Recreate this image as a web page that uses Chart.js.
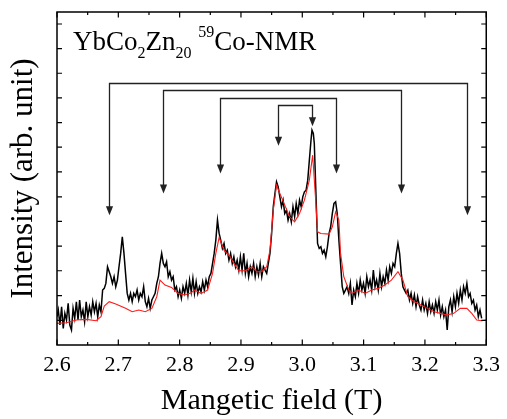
<!DOCTYPE html>
<html>
<head>
<meta charset="utf-8">
<script src="https://cdn.jsdelivr.net/npm/chart.js@4.4.1/dist/chart.umd.min.js"></script>
<style>
html,body{margin:0;padding:0;background:#fff;}
#c{display:block;}
</style>
</head>
<body>
<canvas id="c" width="507" height="419"></canvas>
<script>
// ---- data (magnetic field in T, intensity in arbitrary units) ----
const blackField = [
2.6000,2.6021,2.6048,2.6075,2.6102,2.6128,
2.6155,2.6182,2.6209,2.6236,2.6262,2.6289,2.6316,2.6343,2.6369,2.6396,2.6423,2.6450,2.6476,2.6503,2.6530,2.6557,2.6583,2.6610,2.6637,2.6664,
2.6690,2.6717,2.6744,2.6771,2.6797,2.6824,2.6851,2.6878,2.6904,2.6931,2.6958,2.6985,2.7011,2.7038,2.7065,2.7092,2.7118,2.7145,2.7172,2.7199,
2.7226,2.7252,2.7279,2.7306,2.7333,2.7359,2.7386,2.7413,2.7440,2.7466,2.7493,2.7520,2.7547,2.7573,2.7600,2.7627,2.7654,2.7680,2.7707,2.7734,
2.7761,2.7787,2.7814,2.7841,2.7868,2.7894,2.7921,2.7948,2.7975,2.8001,2.8028,2.8055,2.8082,2.8109,2.8135,2.8162,2.8189,2.8216,2.8242,2.8269,
2.8296,2.8323,2.8349,2.8376,2.8403,2.8430,2.8456,2.8483,2.8510,2.8537,2.8563,2.8590,2.8617,2.8644,2.8670,2.8697,2.8724,2.8751,2.8777,2.8804,
2.8831,2.8858,2.8884,2.8911,2.8938,2.8965,2.8991,2.9018,2.9045,2.9072,2.9099,2.9125,2.9152,2.9179,2.9206,2.9232,2.9259,2.9286,2.9313,2.9339,
2.9366,2.9393,2.9420,2.9446,2.9473,2.9500,2.9527,2.9554,2.9580,2.9607,2.9634,2.9661,2.9687,2.9714,2.9741,2.9768,2.9794,2.9821,2.9848,2.9875,
2.9901,2.9928,2.9955,2.9982,3.0008,3.0035,3.0062,3.0089,3.0115,3.0142,3.0158,3.0180,3.0196,3.0212,3.0233,3.0249,3.0276,3.0303,3.0329,3.0356,3.0383,3.0410,
3.0437,3.0463,3.0490,3.0517,3.0544,3.0570,3.0597,3.0624,3.0651,3.0677,3.0704,3.0731,3.0758,3.0784,3.0811,3.0838,3.0865,3.0891,3.0918,3.0945,
3.0972,3.0998,3.1025,3.1052,3.1079,3.1105,3.1132,3.1159,3.1186,3.1212,3.1239,3.1266,3.1293,3.1319,3.1346,3.1373,3.1400,3.1426,3.1453,3.1480,
3.1507,3.1534,3.1560,3.1587,3.1614,3.1641,3.1667,3.1694,3.1721,3.1748,3.1774,3.1801,3.1828,3.1855,3.1881,3.1908,3.1935,3.1962,3.1988,3.2015,
3.2042,3.2069,3.2095,3.2122,3.2149,3.2176,3.2202,3.2229,3.2256,3.2283,3.2309,3.2336,3.2363,3.2390,3.2416,3.2443,3.2470,3.2497,3.2523,3.2550,
3.2577,3.2604,3.2630,3.2657,3.2684,3.2711,3.2737,3.2764,3.2791,3.2818,3.2844,3.2871,3.2898,3.2925
];
const blackIntensity = [
85,105,60,115,50,95,
75,125,60,45,110,80,130,75,135,85,105,70,130,85,115,90,130,100,125,85,
120,100,165,170,185,235,220,205,185,205,175,195,235,275,325,275,215,155,135,155,
130,155,145,165,135,155,145,175,130,115,140,110,135,145,155,185,205,245,275,245,
235,250,205,220,195,205,165,175,145,165,140,175,155,185,150,195,160,200,155,190,
155,175,160,190,165,195,175,205,215,245,275,315,375,335,315,290,305,275,285,255,
275,245,265,235,255,225,265,225,275,215,245,205,235,215,245,205,235,210,245,205,
235,225,215,245,275,335,415,455,490,475,445,415,435,395,405,375,395,370,415,385,
425,395,435,415,445,460,465,495,555,615,645,635,605,515,395,305,290,295,275,285,265,295,
335,355,395,425,430,395,315,245,175,155,165,175,155,185,120,165,145,185,155,195,
165,185,155,205,175,195,165,225,175,195,165,215,175,205,185,225,195,235,215,245,
235,275,305,275,215,175,165,155,165,135,155,125,150,115,145,120,105,135,105,125,
95,130,100,120,95,130,105,135,90,115,85,105,45,115,135,100,145,115,155,125,
165,135,175,155,185,145,155,125,135,105,120,85,105,80
];
const redField = [2.6000,2.6155,2.6316,2.6476,2.6637,2.6717,2.6771,2.6851,2.6958,2.7118,2.7226,2.7333,2.7440,2.7547,2.7627,2.7680,2.7761,2.7868,2.7975,2.8082,2.8189,2.8242,2.8349,2.8456,2.8537,2.8590,2.8644,2.8724,2.8831,2.8884,2.8965,2.9072,2.9179,2.9259,2.9339,2.9420,2.9473,2.9527,2.9580,2.9634,2.9714,2.9794,2.9875,2.9955,3.0035,3.0115,3.0169,3.0222,3.0249,3.0303,3.0437,3.0490,3.0544,3.0597,3.0624,3.0677,3.0758,3.0811,3.0918,3.1025,3.1132,3.1239,3.1346,3.1453,3.1560,3.1641,3.1721,3.1828,3.1935,3.2042,3.2149,3.2256,3.2363,3.2470,3.2577,3.2684,3.2764,3.2845,3.2925,3.3000];
const redIntensity = [65,67,75,77,73,85,117,130,123,110,100,105,100,110,145,195,180,173,155,150,157,165,155,165,215,275,323,285,263,245,223,223,235,220,220,235,285,405,480,455,420,385,370,395,435,495,570,425,340,335,333,355,400,375,275,205,165,155,165,155,165,170,180,195,220,195,145,130,120,110,100,95,90,95,110,110,95,75,73,75];

// satellite-line assignment brackets (field in T, intensity units)
const bracketLeft  = [2.6846, 2.7723, 2.8660, 2.9596];
const bracketRight = [3.2689, 3.1608, 3.0554, 3.0158];
const bracketTop   = [787, 767, 743, 722];
const tipLeft      = [390, 455, 515, 598];
const tipRight     = [390, 455, 515, 657];

// axis ticks
const xTickValues = [2.6, 2.7, 2.8, 2.9, 3.0, 3.1, 3.2, 3.3];
const xTickLabels = ['2.6','2.7','2.8','2.9','3.0','3.1','3.2','3.3'];
const xMinorTicks = [2.65, 2.75, 2.85, 2.95, 3.05, 3.15, 3.25];
const yTickValues = [74,148,223,297,371,445,520,594,668,742,816,890,964];

const SERIF = "'Liberation Serif', 'Times New Roman', serif";

function zip(xs, ys){ const n=Math.min(xs.length, ys.length); const o=[]; for(let i=0;i<n;i++) o.push({x:xs[i], y:ys[i]}); return o; }

const overlay = {
  id: 'overlay',
  afterDatasetsDraw(chart){
    const {ctx, chartArea:a, scales:{x, y}} = chart;
    ctx.save();
    // brackets with arrows
    ctx.strokeStyle = '#222'; ctx.fillStyle = '#222'; ctx.lineWidth = 1.3;
    const headLen = 9, headW = 3.6;
    function head(px, py){
      ctx.beginPath(); ctx.moveTo(px, py); ctx.lineTo(px-headW, py-headLen); ctx.lineTo(px+headW, py-headLen); ctx.closePath(); ctx.fill();
    }
    for (let i=0;i<bracketLeft.length;i++){
      const xl = Math.round(x.getPixelForValue(bracketLeft[i]))+0.5;
      const xr = Math.round(x.getPixelForValue(bracketRight[i]))+0.5;
      const yt = Math.round(y.getPixelForValue(bracketTop[i]))+0.5;
      const yl = y.getPixelForValue(tipLeft[i]);
      const yr = y.getPixelForValue(tipRight[i]);
      ctx.beginPath();
      ctx.moveTo(xl, yl-headLen+1); ctx.lineTo(xl, yt); ctx.lineTo(xr, yt); ctx.lineTo(xr, yr-headLen+1);
      ctx.stroke();
      head(xl, yl); head(xr, yr);
    }
    // frame
    ctx.strokeStyle = '#000'; ctx.lineWidth = 1.5;
    ctx.strokeRect(a.left, a.top, a.right-a.left, a.bottom-a.top);
    // inward ticks
    ctx.lineWidth = 1.2;
    ctx.beginPath();
    xTickValues.forEach(v => { const p = x.getPixelForValue(v);
      ctx.moveTo(p, a.bottom); ctx.lineTo(p, a.bottom-5.5);
      ctx.moveTo(p, a.top); ctx.lineTo(p, a.top+5.5); });
    xMinorTicks.forEach(v => { const p = x.getPixelForValue(v);
      ctx.moveTo(p, a.bottom); ctx.lineTo(p, a.bottom-3);
      ctx.moveTo(p, a.top); ctx.lineTo(p, a.top+3); });
    yTickValues.forEach(v => { const p = y.getPixelForValue(v);
      ctx.moveTo(a.left, p); ctx.lineTo(a.left+5, p);
      ctx.moveTo(a.right, p); ctx.lineTo(a.right-5, p); });
    ctx.stroke();
    // sample label
    ctx.fillStyle = '#000';
    ctx.textBaseline = 'alphabetic';
    const bx = a.left + 16, by = a.top + 38;
    const big = '27px ' + SERIF, small = '16px ' + SERIF;
    let cx = bx;
    const parts = [
      ['YbCo', big, 0], ['2', small, 8], ['Zn', big, 0], ['20', small, 8], [' ', big, 0],
      ['59', small, -13], ['Co-NMR', big, 0]
    ];
    parts.forEach(([t, f, dy]) => { ctx.font = f; ctx.fillText(t, cx, by+dy); cx += ctx.measureText(t).width; });
    ctx.restore();
  }
};

new Chart(document.getElementById('c'), {
  type: 'line',
  data: {
    datasets: [
      { label: 'simulation', data: zip(redField, redIntensity), borderColor: '#ff1a1a', borderWidth: 1.1, pointRadius: 0, tension: 0, fill: false, order: 0 },
      { label: 'experiment', data: zip(blackField, blackIntensity), borderColor: '#000', borderWidth: 1.5, pointRadius: 0, tension: 0, fill: false, order: 1 }
    ]
  },
  options: {
    responsive: false,
    animation: false,
    devicePixelRatio: 1,
    font: { family: SERIF },
    layout: { padding: { top: 12, right: 14, left: 0, bottom: 0 } },
    plugins: { legend: { display: false }, tooltip: { enabled: false } },
    scales: {
      x: {
        type: 'linear', min: 2.6, max: 3.3,
        grid: { display: false, drawTicks: false },
        border: { display: false },
        afterBuildTicks: s => { s.ticks = xTickValues.map(v => ({ value: v })); },
        afterFit: s => { s.height = 74; },
        ticks: {
          padding: 7, color: '#000', maxRotation: 0, autoSkip: false,
          font: { family: SERIF, size: 22 },
          callback: (v, i) => xTickLabels[i]
        },
        title: { display: true, text: 'Mangetic field (T)', color: '#000', font: { family: SERIF, size: 30, lineHeight: 1.2 }, padding: { top: 0, bottom: 0 } }
      },
      y: {
        type: 'linear', min: 0, max: 1000,
        grid: { display: false, drawTicks: false },
        border: { display: false },
        ticks: { display: false },
        afterFit: s => { s.width = 57; },
        title: { display: true, text: 'Intensity (arb. unit)', color: '#000', font: { family: SERIF, size: 31, lineHeight: 1.2 }, padding: { top: 5, bottom: 0 } }
      }
    }
  },
  plugins: [overlay]
});
</script>
</body>
</html>
